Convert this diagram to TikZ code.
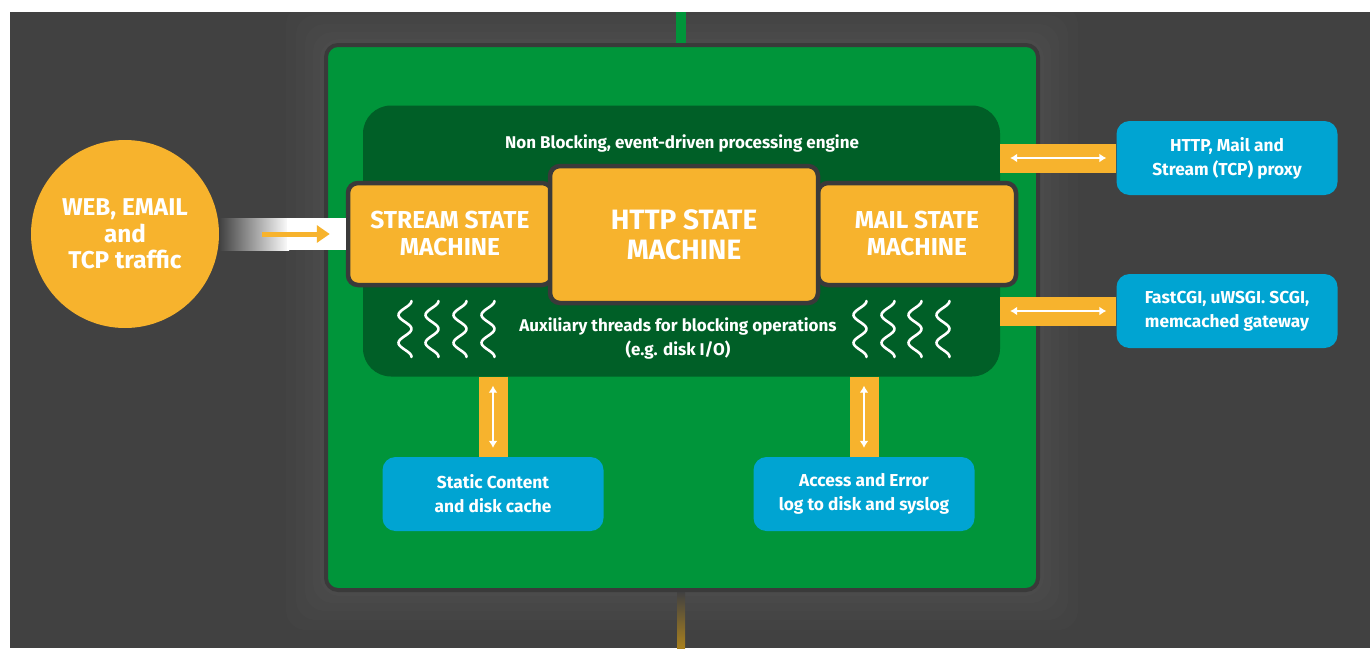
\documentclass[tikz,border=0pt]{standalone}
\usepackage{fontspec}
\setmainfont{Fira Sans}
\usetikzlibrary{positioning,arrows.meta}

\definecolor{bgdark}{HTML}{414141}
\definecolor{nxgreen}{HTML}{00953A}
\definecolor{nxdeep}{HTML}{005F27}
\definecolor{nxorange}{HTML}{F7B32D}
\definecolor{nxblue}{HTML}{00A4D2}
\definecolor{nxedge}{HTML}{3A3A3A}
\definecolor{nxgold}{HTML}{A8801E}

\begin{document}
\begin{tikzpicture}[x=1pt, y=-1pt,
    machine/.style={rectangle, rounded corners=10pt, fill=nxorange, draw=nxedge, line width=4.5pt,
        text=white, align=center, font=\fontsize{24.5}{27}\selectfont\bfseries},
    service/.style={rectangle, rounded corners=13pt, fill=nxblue, draw=none, text=white, align=center,
        minimum width=221pt, minimum height=74pt, font=\fontsize{17.3}{24}\selectfont\bfseries},
    note/.style={text=white, align=center, font=\fontsize{17}{24}\selectfont\bfseries},
    bar/.style={draw=nxorange, line width=29pt},
    link/.style={draw=white, line width=2.2pt, {Latex[length=7pt,width=9pt]}-{Latex[length=7pt,width=9pt]}},
    thread/.style={draw=white, line width=2.6pt, line cap=round}
]

\useasboundingbox (0,0) rectangle (1370,648);
\fill[white] (0,0) rectangle (1370,648);
\fill[bgdark] (10,12) rectangle (1370,648);

% glow round the core
\foreach \g in {40,30,21,13,6}
    \fill[white, opacity=0.012, rounded corners=20pt] ({326-\g},{45-\g}) rectangle ({1038+\g},{590+\g});

\fill[nxgreen] (676,12) rectangle (686,48);
\shade[top color=bgdark, bottom color=nxgold] (677,592) rectangle (685,648);

\node [rectangle, rounded corners=12pt, fill=nxgreen, draw=nxedge, line width=4pt,
    minimum width=712pt, minimum height=545pt] (core) at (682,317.5) {};
\node [rectangle, rounded corners=28pt, fill=nxdeep, minimum width=637pt, minimum height=271pt]
    (engine) at (681.5,241) {};
\node [note] (enginetitle) at (682,143) {Non Blocking, event-driven processing engine};

% state machines
\node [machine, minimum width=204pt, minimum height=102pt] (stream) at (450,234) {STREAM STATE\\MACHINE};
\node [machine, minimum width=198pt, minimum height=102pt] (mail) at (917,234) {MAIL STATE\\MACHINE};
\node [machine, minimum width=268pt, minimum height=137pt, font=\fontsize{28}{30}\selectfont\bfseries]
    (http) at (684,234.5) {HTTP STATE\\MACHINE};

% threads
\foreach \c in {405,432,460,488,860,888,915,943}
    \draw[thread] plot[domain=0:56, samples=40, smooth] ({\c+6.5*cos(\x*12.9)},{301+\x});
\node [note] (auxtext) at (678,338) {Auxiliary threads for blocking operations\\(e.g. disk I/O)};

% services
\node [service] (proxy) at (1227,158) {HTTP, Mail and\\Stream (TCP) proxy};
\node [service] (gateway) at (1227,311) {FastCGI, uWSGI. SCGI,\\memcached gateway};
\node [service] (static) at (493,494) {Static Content\\and disk cache};
\node [service] (logs) at (864,494) {Access and Error\\log to disk and syslog};

\coordinate (p1) at (engine.east |- proxy.west);
\coordinate (p2) at (engine.east |- gateway.west);
\coordinate (s1) at (static.north |- engine.south);
\coordinate (s2) at (logs.north |- engine.south);

\draw[bar] (p1) -- (proxy.west);
\draw[bar] (p2) -- (gateway.west);
\draw[bar] (s1) -- (static.north);
\draw[bar] (s2) -- (logs.north);
\draw[link] ([xshift=10pt]p1) -- ([xshift=-10pt]proxy.west);
\draw[link] ([xshift=10pt]p2) -- ([xshift=-10pt]gateway.west);
\draw[link] ([yshift=-9pt]s1) -- ([yshift=9pt]static.north);
\draw[link] ([yshift=-9pt]s2) -- ([yshift=9pt]logs.north);

% incoming traffic
\node [circle, fill=nxorange, minimum size=188pt, text=white, align=center,
    font=\fontsize{24.3}{26.5}\selectfont\bfseries] (traffic) at (125,234) {WEB, EMAIL\\and\\TCP traffic};
\shade[left color=bgdark, right color=white] ([yshift=16pt]traffic.east) rectangle ([xshift=70pt,yshift=-16pt]traffic.east);
\fill[white] ([xshift=68pt,yshift=16pt]traffic.east) rectangle ([yshift=-16pt]stream.west);
\draw[draw=nxorange, line width=5pt, -{Triangle[length=13pt,width=17pt]}]
    ([xshift=43pt]traffic.east) -- ([xshift=-16pt]stream.west);

\end{tikzpicture}
\end{document}
